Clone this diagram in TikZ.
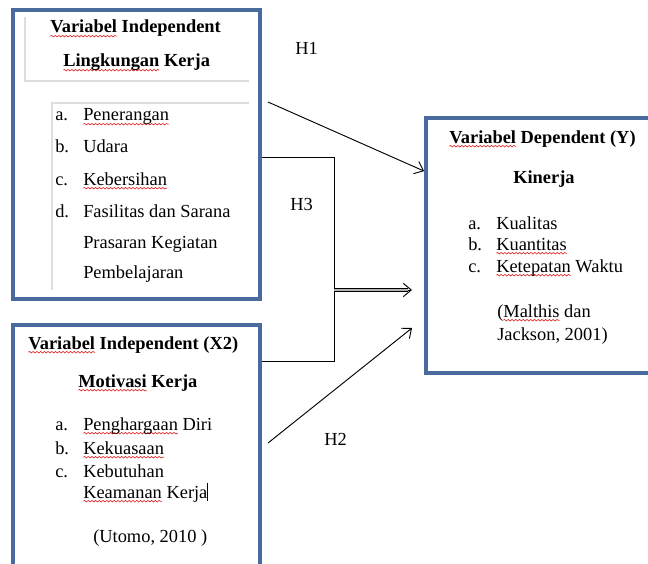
\documentclass[tikz,border=0pt]{standalone}
\usepackage{fontspec}
\setmainfont{Liberation Serif}
\usetikzlibrary{arrows.meta, calc, decorations.pathmorphing}

\definecolor{boxblue}{RGB}{72,106,156}
\definecolor{panelgray}{RGB}{222,222,222}
\definecolor{spellred}{RGB}{225,30,30}
% red wavy underline
\newlength\spellwd
\newcommand\spell[1]{\settowidth\spellwd{#1}\rlap{\tikz[overlay, x=1pt, y=1pt]
  \draw[spellred, line width=0.45pt, decorate, decoration={snake, amplitude=0.6pt, segment length=2.8pt}]
  (0,-2.4) -- (\spellwd,-2.4);}#1}

\begin{document}
\begin{tikzpicture}[x=0.75pt, y=-0.75pt]

\tikzset{box/.style = {draw=boxblue, line width=2.8pt, inner sep=0pt}}
\tikzset{txt/.style = {anchor=base west, inner sep=0pt, font=\fontsize{13.8}{16}\selectfont}}
\tikzset{head/.style = {txt, font=\fontsize{13.8}{16}\selectfont\bfseries}}
\tikzset{arr/.style = {line width=0.7pt, -{Straight Barb[length=6pt, width=10pt]}}}
\tikzset{dbl/.style = {line width=0.55pt, double=gray!60, double distance=1.3pt, shorten >=3pt}}

\useasboundingbox (0,0) rectangle (648,563);
\clip (0,0) rectangle (648,563);

% boxes
\node[box, minimum width=185.25pt, minimum height=216.75pt] (x1) at (136.5,154.5) {};
\node[box, minimum width=185.25pt, minimum height=206.25pt] (x2) at (136.5,462.5) {};
\node[box, minimum width=183pt, minimum height=191.25pt] (y) at (548,245.5) {};

% inner panels of the first box
\draw[panelgray, line width=0.8pt] (25,17) -- (25,81) -- (249,81);
\draw[panelgray, line width=0.8pt] (249,103) -- (52,103) -- (52,290);

% texts, first box
\node[head] (t1a) at (50,33) {\spell{Variabel} Independent};
\node[head] (t1b) at (63,67) {\spell{Lingkungan} Kerja};
\node[txt] (i1a) at (55,121) {\makebox[21pt][l]{a.}\spell{Penerangan}};
\node[txt] (i1b) at (55,152) {\makebox[21pt][l]{b.}Udara};
\node[txt] (i1c) at (55,185) {\makebox[21pt][l]{c.}\spell{Kebersihan}};
\node[txt] (i1d) at (55,217) {\makebox[21pt][l]{d.}Fasilitas dan Sarana};
\node[txt] (i1e) at (83,248) {Prasaran Kegiatan};
\node[txt] (i1f) at (83,278) {Pembelajaran};

% texts, second box
\node[head] (t2a) at (28,349) {\spell{Variabel} Independent (X2)};
\node[head] (t2b) at (78,387) {\spell{Motivasi} Kerja};
\node[txt] (i2a) at (55,430) {\makebox[21pt][l]{a.}\spell{Penghargaan} Diri};
\node[txt] (i2b) at (55,454) {\makebox[21pt][l]{b.}\spell{Kekuasaan}};
\node[txt] (i2c) at (55,477) {\makebox[21pt][l]{c.}Kebutuhan};
\node[txt] (i2d) at (83,498) {\spell{Keamanan} Kerja\rule[-2pt]{0.5pt}{13pt}};
\node[txt] (s2) at (93,542) {(Utomo, 2010 )};

% texts, third box
\node[head] (t3a) at (449,143) {\spell{Variabel} Dependent (Y)};
\node[head] (t3b) at (513,183) {Kinerja};
\node[txt] (i3a) at (468,229) {\makebox[21pt][l]{a.}Kualitas};
\node[txt] (i3b) at (468,250) {\makebox[21pt][l]{b.}\spell{Kuantitas}};
\node[txt] (i3c) at (468,272) {\makebox[21pt][l]{c.}\spell{Ketepatan} Waktu};
\node[txt] (s3a) at (497,317) {(\spell{Malthis} dan};
\node[txt] (s3b) at (497,340) {Jackson, 2001)};

% hypotheses
\node[txt] (h1) at (295,55) {H1};
\node[txt] (h3) at (290,210) {H3};
\node[txt] (h2) at (324,445) {H2};

\coordinate (h1a) at (268,102);
\coordinate (h2a) at (268,443);
\coordinate (h2e) at (412,328);
\coordinate (h3t) at (334,157);
\coordinate (h3b) at (334,361);
\coordinate (h3m) at (334,290);
\coordinate (h3e) at (412,290);

%edges
\draw[arr] (h1a) -- ($(y.north west)+(0,55)$);
\draw[arr] (h2a) -- (h2e);
\draw[line width=0.6pt] (x1.east |- h3t) -- (h3t) -- (h3b) -- (x2.east |- h3b);
\draw[arr] (h3m) -- (h3e);
\draw[dbl] (h3m) -- (h3e);

\end{tikzpicture}
\end{document}
